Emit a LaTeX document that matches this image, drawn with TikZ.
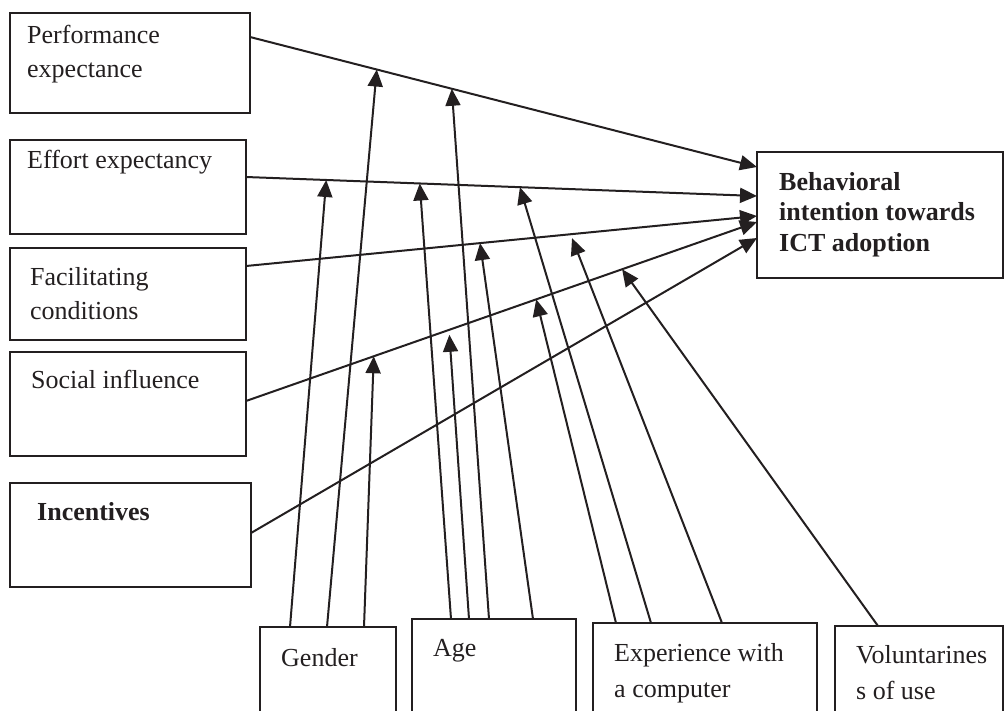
\documentclass[tikz,border=0pt]{standalone}
\usepackage{fontspec}
\setmainfont{Liberation Serif}
\usetikzlibrary{arrows.meta}
\definecolor{figink}{HTML}{231F20}
\tikzset{
  figbox/.style={draw=figink, line width=2pt, rectangle, inner sep=0pt, outer sep=0pt, anchor=north west},
  figtext/.style={anchor=north west, inner sep=0pt, align=left, text=figink, font=\fontsize{26}{34}\selectfont},
  figbold/.style={figtext, font=\fontsize{26}{30.5}\selectfont\bfseries},
  figlow/.style={figtext, font=\fontsize{26}{36}\selectfont},
  figarrow/.style={draw=figink, line width=2pt, -{Triangle[length=17pt, width=15pt]}},
}

\begin{document}
\begin{tikzpicture}[x=1pt, y=-1pt]
  \useasboundingbox (0,0) rectangle (1004,710);
  \clip (0,0) rectangle (1004,710);

  % Einflussfaktoren links
  \node[figbox, minimum width=240pt, minimum height=100pt,
    label={[figtext, xshift=17pt, yshift=-12pt]north west:{Performance\\expectance}}] (pe) at (10,13) {};
  \node[figbox, minimum width=236pt, minimum height=94pt,
    label={[figtext, xshift=17pt, yshift=-10pt]north west:{Effort expectancy}}] (ee) at (10,140) {};
  \node[figbox, minimum width=236pt, minimum height=92pt,
    label={[figtext, xshift=20pt, yshift=-19pt]north west:{Facilitating\\conditions}}] (fc) at (10,248) {};
  \node[figbox, minimum width=236pt, minimum height=104pt,
    label={[figtext, xshift=21pt, yshift=-18pt]north west:{Social influence}}] (si) at (10,352) {};
  \node[figbox, minimum width=241pt, minimum height=104pt,
    label={[figtext, xshift=27pt, yshift=-19pt, font=\fontsize{26}{34}\selectfont\bfseries]north west:{Incentives}}] (inc) at (10,483) {};

  % Zielgroesse rechts
  \node[figbox, minimum width=246pt, minimum height=126pt,
    label={[figbold, xshift=22pt, yshift=-20pt]north west:{Behavioral\\intention towards\\ICT adoption}}] (bi) at (757,152) {};

  % Moderatoren unten
  \node[figbox, minimum width=136pt, minimum height=120pt,
    label={[figlow, xshift=21pt, yshift=-21pt]north west:{Gender}}] (gen) at (260,627) {};
  \node[figbox, minimum width=164pt, minimum height=120pt,
    label={[figlow, xshift=21pt, yshift=-20pt]north west:{Age}}] (age) at (412,619) {};
  \node[figbox, minimum width=224pt, minimum height=120pt,
    label={[figlow, xshift=21pt, yshift=-20pt]north west:{Experience with\\a computer}}] (exp) at (593,623) {};
  \node[figbox, minimum width=168pt, minimum height=120pt,
    label={[figlow, xshift=21pt, yshift=-19pt]north west:{Voluntarines\\s of use}}] (vol) at (835,626) {};

  % Hauptpfade
  \draw[figarrow] ([yshift=-24pt]pe.north east) -- ([yshift=-15pt]bi.north west)
    coordinate[pos=0.25] (pe1) coordinate[pos=0.398] (pe2);
  \draw[figarrow] ([yshift=-37pt]ee.north east) -- ([yshift=-44pt]bi.north west)
    coordinate[pos=0.157] (ee1) coordinate[pos=0.34] (ee2) coordinate[pos=0.536] (ee3);
  \draw[figarrow] ([yshift=-18pt]fc.north east) -- ([yshift=-64pt]bi.north west)
    coordinate[pos=0.458] (fc1) coordinate[pos=0.638] (fc2);
  \draw[figarrow] ([yshift=-49pt]si.north east) -- ([yshift=-70pt]bi.north west)
    coordinate[pos=0.25] (si1) coordinate[pos=0.398] (si2)
    coordinate[pos=0.568] (si3) coordinate[pos=0.736] (si4);
  \draw[figarrow] ([yshift=-50pt]inc.north east) -- ([yshift=-86pt]bi.north west);

  % Moderatorpfeile: Quelle/Versatz/Ziel/Abstand
  \foreach \src/\dx/\tgt/\dy in {gen/30/ee1/0, gen/67/pe1/0, gen/104/si1/0,
      age/39/ee2/0, age/57/si2/5, age/77/pe2/0, age/121/fc1/0,
      exp/23/si3/0, exp/58/ee3/0, exp/129/fc2/4, vol/43/si4/0}{
    \draw[figarrow] ([xshift=\dx pt]\src.north west) -- ([yshift=-\dy pt]\tgt);
  }
\end{tikzpicture}
\end{document}
